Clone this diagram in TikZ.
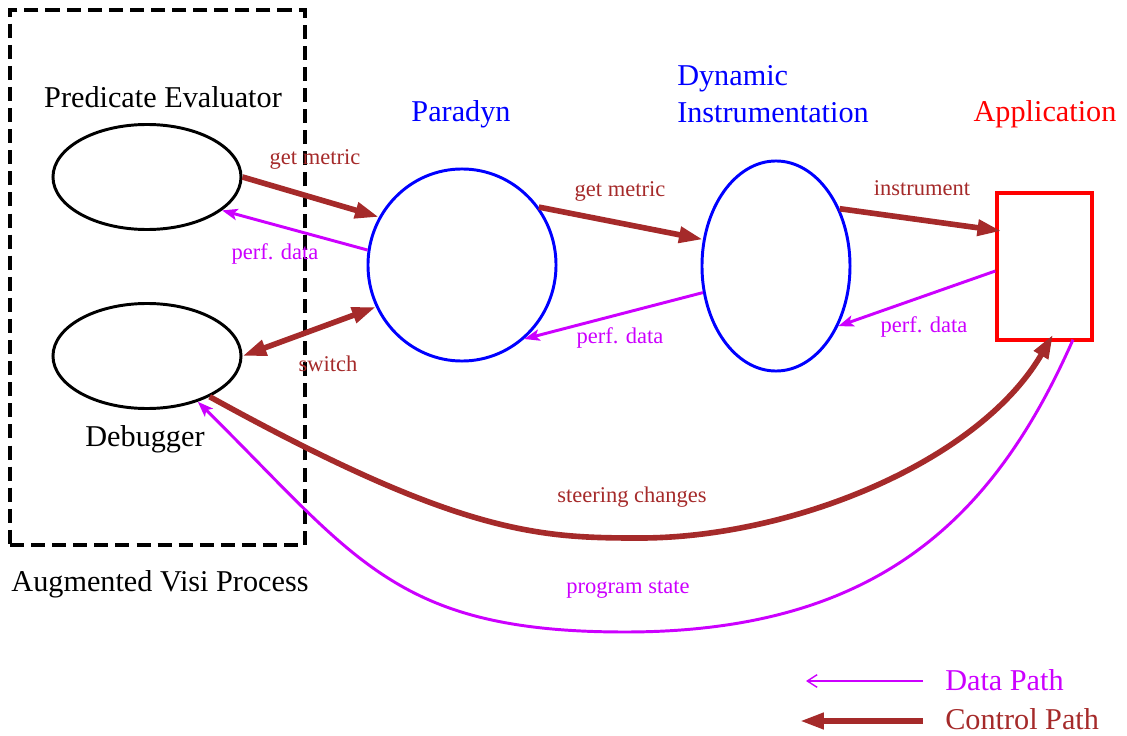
\documentclass[tikz,border=0pt]{standalone}
\usepackage{fontspec}
\setmainfont{Liberation Serif}
\usetikzlibrary{shapes.geometric,arrows.meta,calc}
\definecolor{ctrlbrown}{RGB}{165,42,42}
\definecolor{datamag}{RGB}{204,0,255}
\begin{document}
\begin{tikzpicture}[x=0.025cm,y=-0.025cm,
  big/.style={font=\fontsize{21.5}{25.8}\selectfont, inner sep=0pt},
  small/.style={font=\fontsize{16}{19}\selectfont, inner sep=0pt},
  blackell/.style={ellipse, draw=black, line width=2.1pt, inner sep=0pt, minimum width=4.7cm, minimum height=2.625cm},
  ctrltip/.style={-{Triangle[length=17pt,width=11pt]}},
  ctrl/.style={draw=ctrlbrown, line width=4pt, ctrltip},
  data/.style={draw=datamag, line width=2.1pt, -{Stealth[length=11pt,width=8pt,inset=2.5pt]}},
]
\useasboundingbox (0,0) rectangle (1127,736);

% dashed process box
\node[draw=black, line width=2.3pt, dash pattern=on 10pt off 5pt, inner sep=0pt,
  minimum width=7.375cm, minimum height=13.375cm] (vbox) at (157.5,277.5) {};

% nodes
\node[blackell] (pe) at (147,177) {};
\node[blackell] (dbg) at (147,356) {};
\node[ellipse, draw=blue, line width=2.1pt, inner sep=0pt, minimum width=4.7cm, minimum height=4.8cm] (pd) at (462,265) {};
\node[ellipse, draw=blue, line width=2.1pt, inner sep=0pt, minimum width=3.7cm, minimum height=5.25cm] (di) at (776,266) {};
\node[rectangle, draw=red, line width=2.3pt, inner sep=0pt, minimum width=2.375cm, minimum height=3.675cm] (app) at (1044.5,266.5) {};

% titles
\node[big] (tpe) at (163,97) {Predicate Evaluator};
\node[big] (tdbg) at (145,439) {Debugger};
\node[big] (tvisi) at (160,584) {Augmented Visi Process};
\node[big, text=blue] (tpd) at (461,114) {Paradyn};
\node[big, text=blue, align=left, anchor=west] (tdi) at (677,94) {Dynamic\\Instrumentation};
\node[big, text=red] (tapp) at (1045,114) {Application};

% connectors
\draw[ctrl] (pe.0) -- (pd.150);
\draw[data] (pd.171) -- (pe.-24);
\draw[draw=ctrlbrown, line width=4pt, {Triangle[length=17pt,width=11pt]}-{Triangle[length=17pt,width=11pt]}] (dbg.0) -- (pd.206);
\draw[ctrl] (pd.37) -- (di.160);
\draw[data] (di.200) -- (pd.-50);
\draw[ctrl] (di.42) -- ($(app.west)+(6,-35.5)$);
\draw[data] ($(app.west)+(0,4.5)$) -- (di.-44);

\draw[ctrl] (dbg.-33) .. controls (461,535.5) and (540,538) .. (640,538)
  .. controls (790,538) and (978,463) .. ($(app.south)+(8.5,-7)$);
\draw[data] ($(app.south)+(28.5,-2)$) .. controls (993,521) and (875,632) .. (625,632)
  .. controls (395,632) and (356,558) .. (dbg.-42);

% connector labels
\node[small, text=ctrlbrown] (l1) at (315,159) {get metric};
\node[small, text=datamag] (l2) at (275,254) {perf. data};
\node[small, text=ctrlbrown] (l3) at (328,364) {switch};
\node[small, text=ctrlbrown] (l4) at (620,191) {get metric};
\node[small, text=datamag] (l5) at (620,338) {perf. data};
\node[small, text=ctrlbrown] (l6) at (922,188) {instrument};
\node[small, text=datamag] (l7) at (924,327) {perf. data};
\node[small, text=ctrlbrown] (l8) at (632,497) {steering changes};
\node[small, text=datamag] (l9) at (628,590) {program state};

% legend
\coordinate (d1) at (923,681);
\coordinate (d2) at (806,681);
\coordinate (c1) at (923,721);
\coordinate (c2) at (800,721);
\draw[draw=datamag, line width=1pt, -{Straight Barb[length=7pt,width=9pt]}] (d1) -- (d2);
\draw[ctrl] (c1) -- (c2);
\node[big, text=datamag, anchor=west] (ldata) at (945,680) {Data Path};
\node[big, text=ctrlbrown, anchor=west] (lctrl) at (945,719) {Control Path};
\end{tikzpicture}
\end{document}
